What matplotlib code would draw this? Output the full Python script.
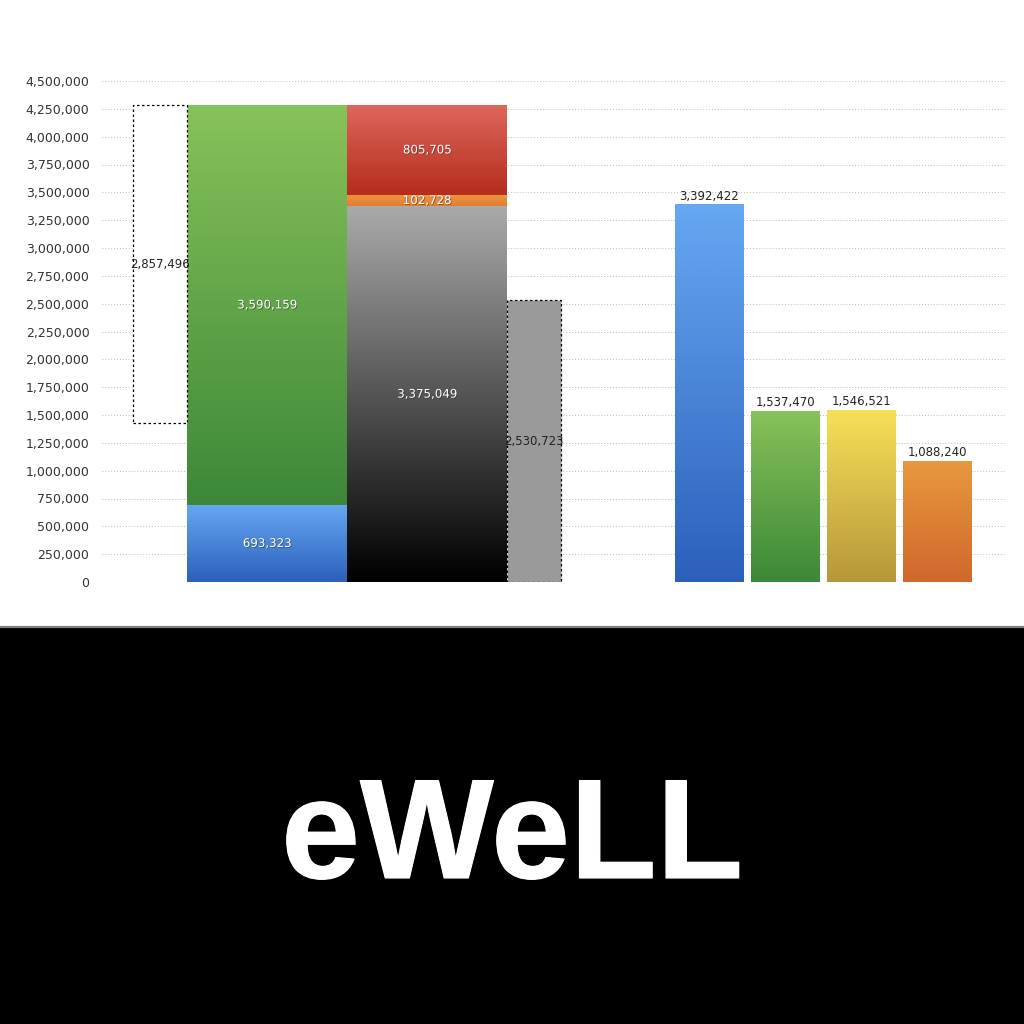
import numpy as np
import matplotlib
matplotlib.use("Agg")
import matplotlib.pyplot as plt
from matplotlib.colors import LinearSegmentedColormap
from matplotlib.patches import Rectangle
from matplotlib.lines import Line2D
import matplotlib.patheffects as pe

# data
stack_a = [693323, 3590159]               # blue, green
stack_b = [3375049, 102728, 805705]       # black, orange, red
gap_box = 2857496                         # dashed floating box
gray_box = 2530723                        # dashed gray box
right_vals = [3392422, 1537470, 1546521, 1088240]

yticks = np.arange(0, 4500001, 250000)

# layout (x in units of 100 px from plot left edge)
pos_gap, w_small = 0.58, 0.54
pos_a, pos_b, w_big = 1.65, 3.25, 1.60
pos_gray = 4.32
right_pos = [6.075, 6.835, 7.595, 8.355]
w_right = 0.69

blue = ("#66a8f2", "#2c60bb")
green = ("#88c25a", "#3c8838")
red = ("#dd675c", "#b52d1c")
orange_thin = ("#ee9443", "#e07f33")
black = ("#a9aaa9", "#000000")
yellow = ("#f7e158", "#b6973a")
orange = ("#e8993f", "#d0682c")
right_cols = [blue, green, yellow, orange]

plt.rcParams['font.family'] = ['DejaVu Sans']

fig = plt.figure(figsize=(10.24, 10.24), dpi=100)
H = 1024.0
ax = fig.add_axes([102 / H, 1 - 582 / H, 903 / H, 501 / H])
ax.set_xlim(0, 9.03)
ax.set_ylim(0, 4500000)


def grad_bar(x, bottom, height, width, cols):
    bars = ax.bar(x, height, width, bottom=bottom, color="none", linewidth=0, zorder=2)
    cmap = LinearSegmentedColormap.from_list("g", [cols[1], cols[0]])
    g = np.linspace(0, 1, 256).reshape(-1, 1)
    im = ax.imshow(g, cmap=cmap, aspect="auto", origin="lower",
                   extent=[x - width / 2, x + width / 2, bottom, bottom + height],
                   zorder=2)
    im.set_clip_path(bars[0])
    return bars


shadow = [pe.withSimplePatchShadow(offset=(0.6, -0.6), shadow_rgbFace="#333333", alpha=0.6)]


def inner_label(x, y, v, color="white"):
    ax.text(x, y, f"{v:,}", ha="center", va="center", fontsize=8.5, color=color,
            path_effects=shadow if color == "white" else None, zorder=5)


# stacked bar A
cols_a = [blue, green]
bottom = 0
for v, c in zip(stack_a, cols_a):
    grad_bar(pos_a, bottom, v, w_big, c)
    inner_label(pos_a, bottom + v / 2, v)
    bottom += v
total = bottom

# stacked bar B
cols_b = [black, orange_thin, red]
bottom = 0
for v, c in zip(stack_b, cols_b):
    grad_bar(pos_b, bottom, v, w_big, c)
    inner_label(pos_b, bottom + v / 2, v)
    bottom += v

# dashed floating box
ax.bar(pos_gap, gap_box, w_small, bottom=total - gap_box, color="white",
       edgecolor="black", linestyle=(0, (2, 2)), linewidth=0.9, zorder=2)
ax.text(pos_gap, total - gap_box / 2, f"{gap_box:,}", ha="center", va="center",
        fontsize=8.5, color="#222222", zorder=5)

# dashed gray box
ax.bar(pos_gray, gray_box, w_small, color="#9a9a9a", edgecolor="black",
       linestyle=(0, (2, 2)), linewidth=0.9, zorder=2)
ax.text(pos_gray, gray_box / 2, f"{gray_box:,}", ha="center", va="center",
        fontsize=8.5, color="#222222", zorder=5)

# right bars
for x, v, c in zip(right_pos, right_vals, right_cols):
    grad_bar(x, 0, v, w_right, c)
    ax.text(x, v + 15000, f"{v:,}", ha="center", va="bottom", fontsize=8.5,
            color="#222222", zorder=5)

ax.set_yticks(yticks)
ax.set_yticklabels([f"{t:,}" for t in yticks], fontsize=9, color="#333333")
ax.set_xticks([])
ax.tick_params(axis="y", length=0, pad=9)
ax.grid(axis="y", linestyle=(0, (1, 2)), color="#bbbbbb", linewidth=0.7, zorder=0)
ax.set_axisbelow(True)
for s in ax.spines.values():
    s.set_visible(False)

# bottom black panel with title
fig.patches.append(Rectangle((0, 0), 1, 1 - 628 / H, transform=fig.transFigure,
                             facecolor="black", edgecolor="none", zorder=0))
fig.lines.append(Line2D([0, 1], [1 - 627 / H, 1 - 627 / H], transform=fig.transFigure,
                        color="#808080", linewidth=1.6))
fig.text(0.5, 1 - 878 / H, "eWeLL", ha="center", va="baseline", color="white",
         fontsize=102, fontweight="bold", family=["Liberation Sans", "DejaVu Sans"],
         path_effects=[pe.withStroke(linewidth=0.8, foreground="white")])

fig.savefig("out.png", dpi=100, facecolor="white")
